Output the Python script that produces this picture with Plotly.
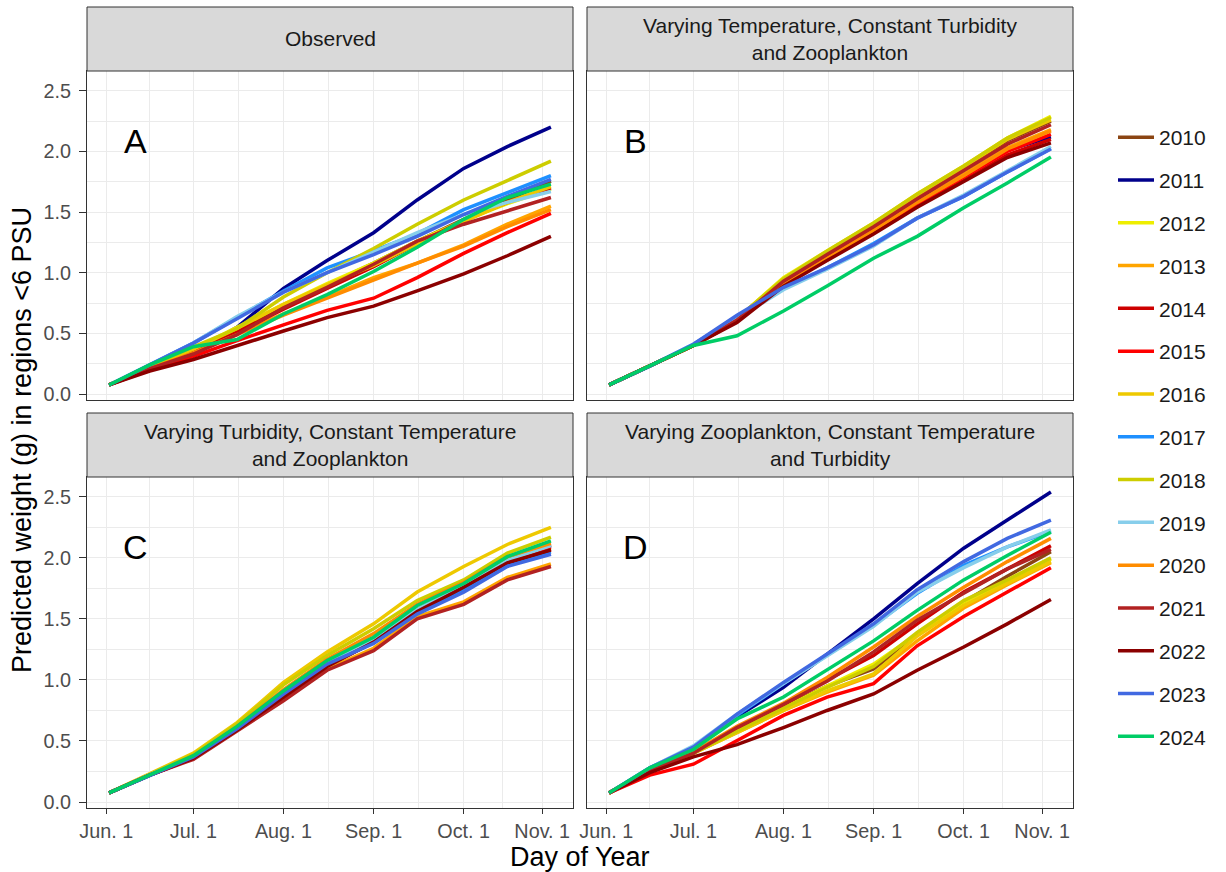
import plotly.graph_objects as go

# ---- data -------------------------------------------------------------
days = [153, 167, 182, 197, 213, 228, 244, 259, 275, 290, 305]

years = ["2010", "2011", "2012", "2013", "2014", "2015", "2016", "2017",
         "2018", "2019", "2020", "2021", "2022", "2023", "2024"]

year_colors = ["#8B4513", "#00008B", "#EEEE00", "#FFA500", "#CD0000",
               "#FF0000", "#EEC900", "#1E90FF", "#CDCD00", "#87CEEB",
               "#FF8C00", "#B22222", "#8B0000", "#4169E1", "#00CD66"]

# Observed conditions
observed = [
    [0.075, 0.22, 0.36, 0.53, 0.73, 0.90, 1.08, 1.26, 1.44, 1.60, 1.755],
    [0.075, 0.22, 0.35, 0.55, 0.87, 1.10, 1.33, 1.60, 1.86, 2.04, 2.20],
    [0.075, 0.22, 0.37, 0.55, 0.74, 0.91, 1.08, 1.26, 1.43, 1.57, 1.69],
    [0.075, 0.21, 0.34, 0.50, 0.66, 0.80, 0.96, 1.08, 1.23, 1.40, 1.55],
    [0.075, 0.21, 0.35, 0.51, 0.70, 0.87, 1.05, 1.24, 1.43, 1.58, 1.70],
    [0.075, 0.20, 0.31, 0.44, 0.57, 0.69, 0.79, 0.96, 1.16, 1.33, 1.49],
    [0.075, 0.22, 0.37, 0.54, 0.74, 0.90, 1.06, 1.24, 1.42, 1.58, 1.71],
    [0.075, 0.24, 0.42, 0.63, 0.85, 1.04, 1.18, 1.32, 1.52, 1.66, 1.80],
    [0.075, 0.23, 0.39, 0.54, 0.80, 1.00, 1.20, 1.40, 1.60, 1.76, 1.92],
    [0.075, 0.24, 0.42, 0.64, 0.84, 1.00, 1.17, 1.33, 1.48, 1.58, 1.67],
    [0.075, 0.21, 0.34, 0.49, 0.65, 0.79, 0.94, 1.08, 1.22, 1.38, 1.52],
    [0.075, 0.21, 0.33, 0.49, 0.71, 0.88, 1.07, 1.26, 1.40, 1.51, 1.62],
    [0.075, 0.19, 0.285, 0.40, 0.52, 0.63, 0.725, 0.85, 0.99, 1.14, 1.30],
    [0.075, 0.24, 0.42, 0.62, 0.84, 1.00, 1.15, 1.30, 1.48, 1.63, 1.77],
    [0.075, 0.24, 0.39, 0.45, 0.66, 0.82, 1.01, 1.21, 1.44, 1.62, 1.73],
]

# Temperature varies, turbidity and zooplankton held constant
vary_temperature = [
    [0.075, 0.23, 0.40, 0.62, 0.95, 1.17, 1.40, 1.64, 1.87, 2.09, 2.25],
    [0.075, 0.23, 0.40, 0.61, 0.92, 1.14, 1.36, 1.59, 1.80, 2.01, 2.12],
    [0.075, 0.23, 0.40, 0.62, 0.96, 1.18, 1.41, 1.65, 1.88, 2.11, 2.29],
    [0.075, 0.23, 0.40, 0.60, 0.90, 1.12, 1.35, 1.58, 1.81, 2.03, 2.18],
    [0.075, 0.23, 0.40, 0.60, 0.90, 1.11, 1.33, 1.55, 1.76, 1.97, 2.10],
    [0.075, 0.23, 0.40, 0.60, 0.91, 1.12, 1.35, 1.57, 1.79, 2.00, 2.14],
    [0.075, 0.23, 0.40, 0.62, 0.95, 1.17, 1.40, 1.64, 1.87, 2.10, 2.26],
    [0.075, 0.23, 0.41, 0.63, 0.87, 1.04, 1.24, 1.45, 1.63, 1.83, 2.025],
    [0.075, 0.23, 0.40, 0.62, 0.95, 1.18, 1.41, 1.65, 1.88, 2.11, 2.28],
    [0.075, 0.23, 0.41, 0.62, 0.86, 1.03, 1.22, 1.45, 1.64, 1.84, 2.04],
    [0.075, 0.23, 0.40, 0.60, 0.90, 1.12, 1.35, 1.58, 1.80, 2.02, 2.17],
    [0.075, 0.23, 0.40, 0.61, 0.93, 1.15, 1.38, 1.61, 1.84, 2.06, 2.22],
    [0.075, 0.23, 0.40, 0.59, 0.89, 1.10, 1.32, 1.54, 1.75, 1.95, 2.07],
    [0.075, 0.23, 0.41, 0.65, 0.88, 1.04, 1.23, 1.45, 1.63, 1.83, 2.02],
    [0.075, 0.23, 0.40, 0.48, 0.685, 0.89, 1.12, 1.30, 1.535, 1.74, 1.955],
]

# Turbidity varies, temperature and zooplankton held constant
vary_turbidity = [
    [0.075, 0.225, 0.37, 0.61, 0.89, 1.14, 1.33, 1.58, 1.76, 1.98, 2.11],
    [0.075, 0.22, 0.36, 0.60, 0.88, 1.13, 1.32, 1.57, 1.76, 1.97, 2.10],
    [0.075, 0.225, 0.37, 0.61, 0.89, 1.14, 1.33, 1.57, 1.75, 1.96, 2.08],
    [0.075, 0.225, 0.36, 0.59, 0.84, 1.09, 1.26, 1.52, 1.64, 1.84, 1.95],
    [0.075, 0.22, 0.36, 0.59, 0.87, 1.12, 1.31, 1.56, 1.75, 1.95, 2.07],
    [0.075, 0.22, 0.36, 0.60, 0.88, 1.13, 1.32, 1.57, 1.76, 1.97, 2.09],
    [0.075, 0.23, 0.40, 0.65, 0.98, 1.23, 1.46, 1.72, 1.93, 2.11, 2.25],
    [0.075, 0.22, 0.37, 0.60, 0.88, 1.13, 1.31, 1.55, 1.74, 1.95, 2.05],
    [0.075, 0.23, 0.39, 0.64, 0.96, 1.20, 1.42, 1.65, 1.82, 2.04, 2.17],
    [0.075, 0.225, 0.37, 0.61, 0.89, 1.14, 1.33, 1.58, 1.77, 1.98, 2.10],
    [0.075, 0.225, 0.38, 0.62, 0.92, 1.17, 1.38, 1.62, 1.80, 2.01, 2.12],
    [0.075, 0.22, 0.35, 0.58, 0.83, 1.08, 1.24, 1.50, 1.62, 1.82, 1.93],
    [0.075, 0.22, 0.36, 0.59, 0.86, 1.11, 1.31, 1.56, 1.76, 1.96, 2.065],
    [0.075, 0.22, 0.37, 0.60, 0.885, 1.13, 1.30, 1.54, 1.72, 1.93, 2.03],
    [0.075, 0.225, 0.38, 0.62, 0.91, 1.16, 1.35, 1.61, 1.79, 2.01, 2.14],
]

# Zooplankton varies, temperature and turbidity held constant
vary_zooplankton = [
    [0.075, 0.26, 0.40, 0.59, 0.78, 0.95, 1.09, 1.37, 1.64, 1.85, 2.05],
    [0.075, 0.27, 0.44, 0.70, 0.94, 1.21, 1.50, 1.79, 2.08, 2.31, 2.54],
    [0.075, 0.26, 0.40, 0.58, 0.77, 0.95, 1.13, 1.38, 1.64, 1.81, 1.99],
    [0.075, 0.26, 0.40, 0.57, 0.75, 0.90, 1.04, 1.32, 1.59, 1.78, 1.96],
    [0.075, 0.26, 0.40, 0.60, 0.80, 1.00, 1.20, 1.46, 1.72, 1.91, 2.10],
    [0.075, 0.22, 0.31, 0.50, 0.71, 0.86, 0.97, 1.28, 1.52, 1.72, 1.92],
    [0.075, 0.26, 0.40, 0.57, 0.75, 0.91, 1.05, 1.36, 1.61, 1.79, 1.97],
    [0.075, 0.28, 0.45, 0.71, 0.97, 1.20, 1.45, 1.71, 1.94, 2.09, 2.22],
    [0.075, 0.26, 0.40, 0.58, 0.77, 0.94, 1.11, 1.39, 1.65, 1.82, 2.00],
    [0.075, 0.28, 0.46, 0.72, 0.97, 1.20, 1.44, 1.72, 1.92, 2.09, 2.23],
    [0.075, 0.27, 0.41, 0.62, 0.81, 1.02, 1.27, 1.52, 1.76, 1.97, 2.16],
    [0.075, 0.26, 0.40, 0.61, 0.80, 0.99, 1.23, 1.49, 1.71, 1.91, 2.07],
    [0.075, 0.24, 0.37, 0.47, 0.61, 0.75, 0.885, 1.08, 1.27, 1.46, 1.66],
    [0.075, 0.28, 0.45, 0.72, 0.98, 1.21, 1.46, 1.74, 1.97, 2.16, 2.31],
    [0.075, 0.28, 0.43, 0.68, 0.86, 1.08, 1.32, 1.57, 1.82, 2.02, 2.21],
]

panel_titles = [
    "Observed",
    "Varying Temperature, Constant Turbidity<br>and Zooplankton",
    "Varying Turbidity, Constant Temperature<br>and Zooplankton",
    "Varying Zooplankton, Constant Temperature<br>and Turbidity",
]
panel_letters = ["A", "B", "C", "D"]

x_tick_days = [152, 182, 213, 244, 275, 302]
x_tick_text = ["Jun. 1", "Jul. 1", "Aug. 1", "Sep. 1", "Oct. 1", "Nov. 1"]
x_minor_days = [167, 197.5, 228.5, 259.5, 288.5]
y_ticks = [0.0, 0.5, 1.0, 1.5, 2.0, 2.5]
y_minor = [0.25, 0.75, 1.25, 1.75, 2.25]

# ---- layout geometry (pixels) ----------------------------------------
W, H = 1226, 872
cols = [(87, 573), (587, 1073)]          # panel left/right
rows = [(71, 400, 7), (477, 808, 413)]   # plot top, plot bottom, strip top

def px_x(p):
    return p / W

def px_y(p):
    return 1 - p / H

FONT = "Liberation Sans, Arial, sans-serif"
TICK_FONT = dict(family=FONT, size=19.8, color="#4D4D4D")
GRID = "#EBEBEB"
BORDER = "#333333"

fig = go.Figure()
panels = [observed, vary_temperature, vary_turbidity, vary_zooplankton]

for k, panel in enumerate(panels):
    suffix = "" if k == 0 else str(k + 1)
    for i, yr in enumerate(years):
        fig.add_trace(go.Scatter(
            x=days, y=panel[i], mode="lines",
            line=dict(color=year_colors[i], width=3.5),
            name=yr, legendgroup=yr, showlegend=(k == 0),
            xaxis="x" + suffix, yaxis="y" + suffix,
            hoverinfo="skip",
        ))

shapes = []
annotations = []
for k in range(4):
    r, c = divmod(k, 2)
    x0, x1 = cols[c]
    top, bottom, strip_top = rows[r]
    suffix = "" if k == 0 else str(k + 1)
    xa = dict(
        domain=[px_x(x0), px_x(x1)], anchor="y" + suffix, automargin=False,
        range=[145.4, 312.6], tickmode="array", tickvals=x_tick_days,
        ticktext=x_tick_text, showgrid=True, gridcolor=GRID, gridwidth=1.2,
        minor=dict(tickmode="array", tickvals=x_minor_days, showgrid=True,
                   gridcolor=GRID, gridwidth=0.7, ticks=""),
        showline=True, mirror=True, linecolor=BORDER, linewidth=1,
        zeroline=False, tickfont=TICK_FONT,
        ticks="outside" if r == 1 else "", ticklen=5, tickcolor=BORDER,
        showticklabels=(r == 1), ticklabelstandoff=0,
    )
    ya = dict(
        domain=[px_y(bottom), px_y(top)], anchor="x" + suffix, automargin=False,
        range=[-0.049, 2.663], tickmode="array", tickvals=y_ticks,
        ticktext=[f"{v:.1f}" for v in y_ticks], showgrid=True,
        gridcolor=GRID, gridwidth=1.2,
        minor=dict(tickmode="array", tickvals=y_minor, showgrid=True,
                   gridcolor=GRID, gridwidth=0.7, ticks=""),
        showline=True, mirror=True, linecolor=BORDER, linewidth=1,
        zeroline=False, tickfont=TICK_FONT,
        ticks="outside" if c == 0 else "", ticklen=7, tickcolor=BORDER,
        showticklabels=(c == 0), ticklabelstandoff=4,
    )
    fig.layout["xaxis" + suffix] = xa
    fig.layout["yaxis" + suffix] = ya

    # facet strip
    shapes.append(dict(
        type="rect", xref="paper", yref="paper",
        x0=px_x(x0), x1=px_x(x1), y0=px_y(top), y1=px_y(strip_top),
        fillcolor="#D9D9D9", line=dict(color=BORDER, width=1), layer="above",
    ))
    annotations.append(dict(
        xref="paper", yref="paper", x=px_x((x0 + x1) / 2),
        y=px_y((top + strip_top) / 2), text=panel_titles[k],
        showarrow=False, xanchor="center", yanchor="middle",
        font=dict(family=FONT, size=21, color="#1A1A1A"),
    ))
    # panel letter
    annotations.append(dict(
        xref="x" + suffix, yref="y" + suffix, x=162, y=2.09,
        text=panel_letters[k], showarrow=False,
        xanchor="center", yanchor="middle",
        font=dict(family=FONT, size=34, color="black"),
    ))

annotations.append(dict(
    xref="paper", yref="paper", x=px_x(580), y=px_y(857),
    text="Day of Year", showarrow=False, xanchor="center", yanchor="middle",
    font=dict(family=FONT, size=27, color="black"),
))
annotations.append(dict(
    xref="paper", yref="paper", x=px_x(22), y=px_y(440),
    text="Predicted weight (g) in regions <6 PSU", textangle=-90,
    showarrow=False, xanchor="center", yanchor="middle",
    font=dict(family=FONT, size=27, color="black"),
))

fig.update_layout(
    width=W, height=H, margin=dict(l=0, r=0, t=0, b=0),
    paper_bgcolor="white", plot_bgcolor="white",
    shapes=shapes, annotations=annotations,
    legend=dict(
        x=px_x(1113), y=px_y(117), xanchor="left", yanchor="top",
        font=dict(family=FONT, size=21, color="#1A1A1A"),
        tracegroupgap=12.5, bgcolor="rgba(0,0,0,0)", itemwidth=36,
    ),
    showlegend=True,
)

fig.write_html("out.html")
